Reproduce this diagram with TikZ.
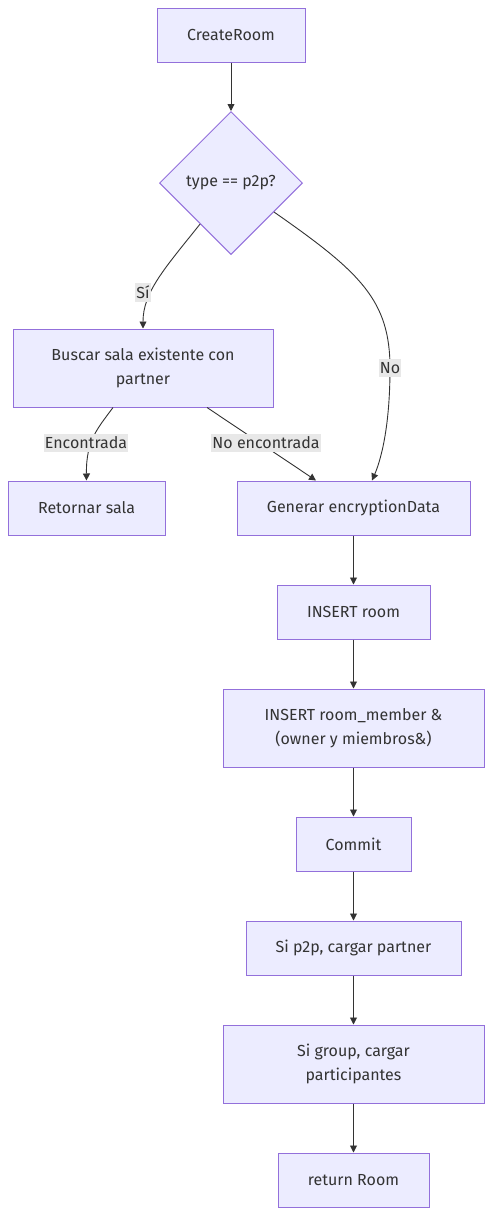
\documentclass[tikz,border=0pt]{standalone}
\usepackage{fontspec}
\setmainfont{Fira Sans}
\usepackage{tikz}
\usepackage{xcolor}
\usetikzlibrary{arrows.meta, positioning, shapes.geometric, calc}
\definecolor{boxFill}{HTML}{ECECFF}
\definecolor{boxLine}{HTML}{9370DB}
\definecolor{inkGray}{HTML}{333333}
\definecolor{lblFill}{HTML}{E8E8E8}
\tikzset{
    procBox/.style={rectangle, draw=boxLine, fill=boxFill, line width=1pt, text=inkGray, align=center, inner sep=0pt, minimum height=54pt},
    decNode/.style={diamond, aspect=1, draw=boxLine, fill=boxFill, line width=1pt, text=inkGray, inner sep=0pt, minimum size=143pt},
    edgeLbl/.style={fill=lblFill, text=inkGray, inner xsep=1pt, inner ysep=3pt},
    flowEdge/.style={->, draw=inkGray, line width=0.9pt}
}

\begin{document}
\begin{tikzpicture}[x=1pt, y=-1pt, >={Triangle[length=7pt, width=7pt]}, font=\fontsize{16}{24}\selectfont]
    \useasboundingbox (0,0) rectangle (492,1216);
    \node[procBox, minimum width=148pt] (create) at (231,35) {CreateRoom};
    \node[decNode] (isP2p) at (231,183) {type == p2p?};
    \node[procBox, minimum width=260pt, minimum height=78pt] (search) at (143,368) {Buscar sala existente con\\partner};
    \node[procBox, minimum width=157pt] (giveBack) at (86.5,508) {Retornar sala};
    \node[procBox, minimum width=233pt] (encData) at (353.5,508) {Generar encryptionData};
    \node[procBox, minimum width=153pt] (insRoom) at (353.5,612) {INSERT room};
    \node[procBox, minimum width=261pt, minimum height=78pt] (insMember) at (353.5,728) {INSERT room\_member \&\\(owner y miembros\&)};
    \node[procBox, minimum width=115pt] (commit) at (353.5,844) {Commit};
    \node[procBox, minimum width=215pt] (loadPartner) at (353.5,948) {Si p2p, cargar partner};
    \node[procBox, minimum width=261pt, minimum height=78pt] (loadGroup) at (353.5,1064) {Si group, cargar\\participantes};
    \node[procBox, minimum width=151pt] (retRoom) at (353.5,1180) {return Room};

    % branches
    \draw[flowEdge] (create) -- (isP2p);
    \draw[flowEdge] (isP2p.-127) .. controls (165,268) and (143,292) .. (search.north);
    \draw[flowEdge] (isP2p.-34) .. controls (360,272) and (390,300) .. (390,368)
        .. controls (390,430) and (380,462) .. ($(encData.north)+(18.5,0)$);
    \draw[flowEdge] ($(search.south)+(-30,0)$) .. controls (98,428) and (86,440) .. (giveBack.north);
    \draw[flowEdge] ($(search.south)+(64,0)$) -- ($(encData.north)+(-37.5,0)$);

    % main chain
    \draw[flowEdge] (encData) -- (insRoom);
    \draw[flowEdge] (insRoom) -- (insMember);
    \draw[flowEdge] (insMember) -- (commit);
    \draw[flowEdge] (commit) -- (loadPartner);
    \draw[flowEdge] (loadPartner) -- (loadGroup);
    \draw[flowEdge] (loadGroup) -- (retRoom);

    \node[edgeLbl] (lblYes) at (143,292) {Sí};
    \node[edgeLbl] (lblNo) at (390,368) {No};
    \node[edgeLbl] (lblFound) at (86,443) {Encontrada};
    \node[edgeLbl] (lblNotFound) at (266,443) {No encontrada};
\end{tikzpicture}
\end{document}
